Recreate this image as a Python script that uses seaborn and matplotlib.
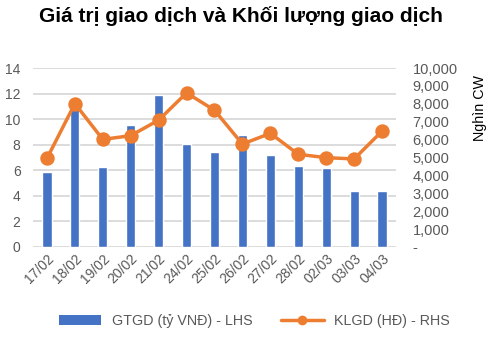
import matplotlib
matplotlib.use("Agg")
import matplotlib.pyplot as plt
import matplotlib.ticker as mticker
from matplotlib.lines import Line2D
from matplotlib.patches import Patch
import seaborn as sns
import pandas as pd

dates = ["17/02", "18/02", "19/02", "20/02", "21/02", "24/02", "25/02",
         "26/02", "27/02", "28/02", "02/03", "03/03", "04/03"]
gtgd = [5.84, 11.0, 6.29, 9.53, 11.9, 8.03, 7.4, 8.78, 7.17, 6.36, 6.16, 4.36, 4.36]
klgd = [4950, 8010, 6010, 6220, 7090, 8610, 7640, 5750, 6350, 5180, 4990, 4920, 6470]

title = "Giá trị giao dịch và Khối lượng giao dịch"
bar_label = "GTGD (tỷ VNĐ) - LHS"
line_label = "KLGD (HĐ) - RHS"
right_ylabel = "Nghìn CW"

sns.set_theme(style="white")
plt.rcParams['font.family'] = ['Liberation Sans', 'DejaVu Sans']

BLUE = "#4472C4"
ORANGE = "#ED7D31"
GRAY = "#595959"
GRID = "#D9D9D9"

df = pd.DataFrame({"date": dates, "gtgd": gtgd, "klgd": klgd})

fig = plt.figure(figsize=(4.91, 3.39), dpi=100)
ax = fig.add_axes([33/491, 1-247/339, (396-33)/491, (247-68)/339])

sns.barplot(data=df, x="date", y="gtgd", color=BLUE, width=0.33,
            saturation=1, ax=ax, zorder=2)
ax.set_ylim(0, 14)
ax.set_yticks(range(0, 15, 2))
ax.yaxis.grid(True, color=GRID, linewidth=1.3, zorder=0)
ax.set_axisbelow(True)
for s in ax.spines.values():
    s.set_visible(False)
ax.set_xlabel("")
ax.set_ylabel("")
ax.tick_params(axis="both", length=0, colors=GRAY, labelsize=10)
ax.tick_params(axis="y", pad=9)
ax.tick_params(axis="x", pad=3)
for lab in ax.get_xticklabels():
    lab.set_rotation(45)
    lab.set_ha("right")
    lab.set_rotation_mode("anchor")

ax2 = ax.twinx()
sns.pointplot(data=df, x="date", y="klgd", color=ORANGE, ax=ax2,
              markers="o", markersize=8.5, linewidth=2.5)
ax2.set_ylim(0, 10000)
ax2.set_yticks(range(0, 10001, 1000))
ax2.yaxis.set_major_formatter(mticker.FuncFormatter(
    lambda v, p: "-" if v == 0 else f"{int(v):,}"))
for s in ax2.spines.values():
    s.set_visible(False)
ax2.grid(False)
ax2.set_xlabel("")
ax2.set_ylabel(right_ylabel, fontsize=10.3, color="black")
ax2.yaxis.set_label_coords(1.212, 0.776)
ax2.tick_params(axis="y", length=0, colors=GRAY, labelsize=10.5, pad=12)
ax.set_xlim(-0.5, len(dates) - 0.5)
ax2.set_xlim(-0.5, len(dates) - 0.5)

fig.text(241/491, 1-16/339, title, ha="center", va="center",
         fontsize=15, fontweight="bold", color="black")

handles = [Patch(facecolor=BLUE, edgecolor="none"),
           Line2D([0], [0], color=ORANGE, linewidth=2.5, marker="o", markersize=6)]
fig.legend(handles, [bar_label, line_label], loc="center",
           bbox_to_anchor=(254/491, 1-321/339), ncol=2, frameon=False,
           fontsize=10.3, labelcolor=GRAY, handlelength=3.0, columnspacing=2.0,
           handletextpad=0.7)

fig.savefig("out.png", dpi=100)
